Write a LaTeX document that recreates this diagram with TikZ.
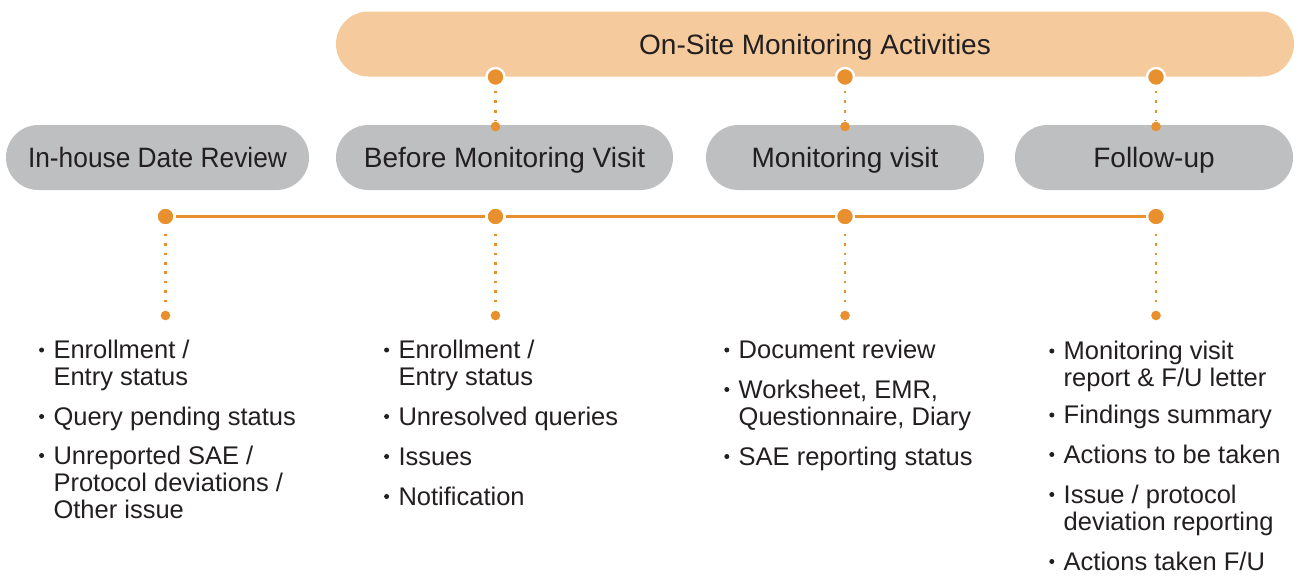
\documentclass[tikz,border=0pt]{standalone}
\usepackage{fontspec}
\setmainfont{Liberation Sans}
\usetikzlibrary{shapes.misc}
\definecolor{barorange}{HTML}{F5CA9C}
\definecolor{dotorange}{HTML}{E8902E}
\definecolor{boxgray}{HTML}{BEBFC1}
\definecolor{ink}{HTML}{231F20}
\begin{document}
\begin{tikzpicture}[x=1pt,y=-1pt,
  pill/.style={rounded rectangle, fill=#1, minimum height=65pt, inner sep=0pt,
    text=ink, font=\fontsize{28}{30}\selectfont, text height=20pt, text depth=0pt},
  bigdot/.style={circle, fill=dotorange, draw=white, line width=2.4pt, minimum size=18pt, inner sep=0pt},
  smalldot/.style={circle, fill=dotorange, minimum size=9.6pt, inner sep=0pt},
  dotline/.style={draw=dotorange, line width=2.6pt, dash pattern=on 2.6pt off 6.8pt},
  topdotline/.style={draw=dotorange, line width=2.6pt, dash pattern=on 2.6pt off 7.05pt},
  tline/.style={draw=dotorange, line width=2.6pt},
  li/.style={anchor=base west, inner sep=0pt, text=ink, font=\fontsize{25.5}{27}\selectfont},
  bul/.style={circle, fill=ink, minimum size=5pt, inner sep=0pt},
]
\fill[white] (0,0) rectangle (1298,576);
\useasboundingbox (0,0) rectangle (1298,576);

% top bar and boxes
\node[pill=barorange, minimum width=958pt] (top) at (815,44) {On-Site Monitoring Activities};
\node[pill=boxgray, minimum width=303pt] (b1) at (157.5,157.5) {\scalebox{0.94}[1]{In-house Date Review}};
\node[pill=boxgray, minimum width=337pt] (b2) at (504.5,157.5) {Before Monitoring Visit};
\node[pill=boxgray, minimum width=278pt] (b3) at (845,157.5) {Monitoring visit};
\node[pill=boxgray, minimum width=278pt] (b4) at (1154,157.5) {Follow-up};

% top connectors
\foreach \n/\x in {2/495.5,3/845,4/1156}{
  \node[bigdot] (t\n) at (\x,77) {};
  \node[smalldot] (u\n) at (\x,126.5) {};
  \draw[topdotline, shorten <=3.5pt, shorten >=0.5pt] (t\n.south) -- (u\n.north);
}

% timeline
\foreach \n/\x in {1/165.5,2/495.5,3/845,4/1156}{
  \node[bigdot] (d\n) at (\x,216.5) {};
  \node[smalldot] (s\n) at (\x,315.5) {};
  \draw[dotline, shorten <=7pt, shorten >=8pt] (d\n.south) -- (s\n.north);
}
\draw[tline] (d1) -- (d2);
\draw[tline] (d2) -- (d3);
\draw[tline] (d3) -- (d4);

% column 1
\node[li] (a1) at (53.3,358.5) {Enrollment /};
\node[li] (a2) at (53.3,385.5) {Entry status};
\node[li] (a3) at (53.3,425) {Query pending status};
\node[li] (a4) at (53.3,464) {Unreported SAE /};
\node[li] (a5) at (53.3,491) {Protocol deviations /};
\node[li] (a6) at (53.3,518) {Other issue};
\node[bul] (ab1) at (41.6,350) {};
\node[bul] (ab2) at (41.6,416.5) {};
\node[bul] (ab3) at (41.6,455.5) {};

% column 2
\node[li] (bb1) at (398.3,358.5) {Enrollment /};
\node[li] (bb2) at (398.3,385.5) {Entry status};
\node[li] (bb3) at (398.3,425) {Unresolved queries};
\node[li] (bb4) at (398.3,465) {Issues};
\node[li] (bb5) at (398.3,505) {Notification};
\node[bul] (bbu1) at (386.6,350) {};
\node[bul] (bbu2) at (386.6,416.5) {};
\node[bul] (bbu3) at (386.6,456.5) {};
\node[bul] (bbu4) at (386.6,496.5) {};

% column 3
\node[li] (c1) at (738.5,358.5) {Document review};
\node[li] (c2) at (738.5,398) {Worksheet, EMR,};
\node[li] (c3) at (738.5,425) {Questionnaire, Diary};
\node[li] (c4) at (738.5,465) {SAE reporting status};
\node[bul] (cb1) at (726.8,350) {};
\node[bul] (cb2) at (726.8,389.5) {};
\node[bul] (cb3) at (726.8,456.5) {};

% column 4
\node[li] (e1) at (1063.5,359.5) {Monitoring visit};
\node[li] (e2) at (1063.5,386.5) {report \& F/U letter};
\node[li] (e3) at (1063.5,423.5) {Findings summary};
\node[li] (e4) at (1063.5,463) {Actions to be taken};
\node[li] (e5) at (1063.5,503) {Issue / protocol};
\node[li] (e6) at (1063.5,530) {deviation reporting};
\node[li] (e7) at (1063.5,570) {Actions taken F/U};
\node[bul] (eb1) at (1051.8,351) {};
\node[bul] (eb2) at (1051.8,415) {};
\node[bul] (eb3) at (1051.8,454.5) {};
\node[bul] (eb4) at (1051.8,494.5) {};
\node[bul] (eb5) at (1051.8,561.5) {};
\end{tikzpicture}
\end{document}
